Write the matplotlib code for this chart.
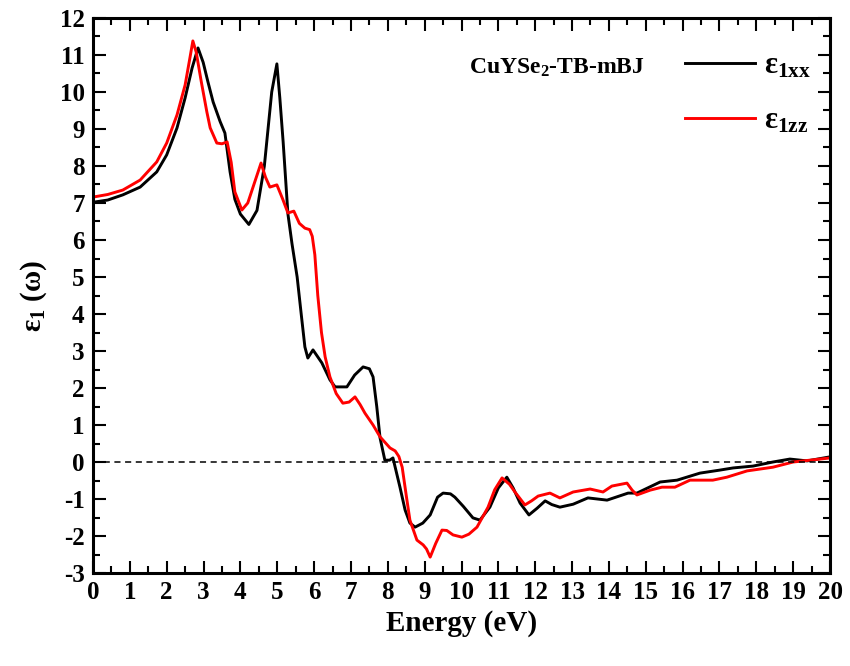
import numpy as np
import matplotlib
matplotlib.use("Agg")
import matplotlib.pyplot as plt
from matplotlib.ticker import MultipleLocator

plt.rcParams['font.family'] = ['Liberation Serif', 'DejaVu Serif']
plt.rcParams['font.weight'] = 'bold'
plt.rcParams['axes.unicode_minus'] = False
plt.rcParams['mathtext.fontset'] = 'custom'
plt.rcParams['mathtext.rm'] = 'Liberation Serif:bold'
plt.rcParams['mathtext.it'] = 'Liberation Serif:bold'
plt.rcParams['mathtext.bf'] = 'Liberation Serif:bold'

# real part of the dielectric function, xx component
energy_xx = [0.0, 0.4, 0.81, 1.28, 1.73, 2.0, 2.28, 2.5, 2.69, 2.85, 2.99, 3.12,
             3.26, 3.45, 3.58, 3.72, 3.85, 4.0, 4.23, 4.45, 4.65, 4.85, 4.99,
             5.07, 5.16, 5.29, 5.4, 5.54, 5.65, 5.75, 5.83, 5.97, 6.21, 6.43,
             6.57, 6.89, 7.1, 7.33, 7.5, 7.6, 7.7, 7.79, 7.92, 8.05, 8.14, 8.33,
             8.47, 8.6, 8.74, 8.95, 9.15, 9.35, 9.5, 9.7, 9.82, 10.05, 10.31,
             10.5, 10.77, 11.0, 11.23, 11.4, 11.59, 11.83, 12.05, 12.27, 12.45,
             12.67, 13.03, 13.43, 13.95, 14.52, 14.76, 15.39, 15.85, 16.47,
             17.0, 17.37, 17.91, 18.45, 18.91, 19.38, 20.0]
eps_xx = [7.02, 7.08, 7.22, 7.43, 7.84, 8.3, 9.03, 9.84, 10.65, 11.19, 10.8, 10.27,
          9.73, 9.2, 8.89, 7.84, 7.1, 6.7, 6.42, 6.8, 8.0, 10.0, 10.76,
          9.84, 8.65, 6.7, 5.9, 5.0, 4.0, 3.11, 2.81, 3.03, 2.68, 2.22,
          2.03, 2.03, 2.35, 2.57, 2.52, 2.3, 1.5, 0.65, 0.05, 0.05, 0.11, -0.68,
          -1.3, -1.65, -1.76, -1.65, -1.43, -0.95, -0.84, -0.86, -0.95, -1.2, -1.51,
          -1.57, -1.22, -0.7, -0.41, -0.7, -1.11, -1.43, -1.25, -1.05, -1.15,
          -1.22, -1.14, -0.97, -1.03, -0.84, -0.84, -0.54, -0.49, -0.3,
          -0.22, -0.16, -0.11, 0.0, 0.08, 0.03, 0.14]

# zz component
energy_zz = [0.0, 0.4, 0.81, 1.28, 1.73, 2.0, 2.28, 2.5, 2.63, 2.71, 2.8, 2.94,
             3.09, 3.18, 3.36, 3.5, 3.64, 3.75, 3.85, 4.04, 4.2, 4.4, 4.56, 4.68,
             4.8, 4.99, 5.15, 5.29, 5.45, 5.6, 5.75, 5.88, 5.95, 6.02, 6.1, 6.2,
             6.3, 6.43, 6.6, 6.78, 6.95, 7.11, 7.25, 7.38, 7.6, 7.79, 8.06, 8.2,
             8.3, 8.39, 8.5, 8.6, 8.79, 8.96, 9.05, 9.15, 9.3, 9.47, 9.6, 9.77,
             10.01, 10.2, 10.42, 10.72, 10.9, 11.1, 11.3, 11.45, 11.72, 11.9,
             12.08, 12.4, 12.67, 13.03, 13.49, 13.84, 14.08, 14.49, 14.63, 14.76,
             15.12, 15.44, 15.79, 16.2, 16.82, 17.2, 17.75, 18.45, 19.0, 20.0]
eps_zz = [7.16, 7.23, 7.35, 7.62, 8.11, 8.62, 9.38, 10.19, 10.92, 11.38, 11.08, 10.27,
          9.46, 9.03, 8.62, 8.6, 8.65, 8.1, 7.3, 6.81, 7.0, 7.6, 8.08, 7.7,
          7.43, 7.49, 7.1, 6.73, 6.78, 6.45, 6.32, 6.28, 6.1, 5.6, 4.5, 3.5,
          2.84, 2.3, 1.85, 1.59, 1.62, 1.76, 1.55, 1.32, 1.0, 0.68, 0.38, 0.3,
          0.15, -0.14, -0.9, -1.57, -2.11, -2.24, -2.35, -2.57, -2.2, -1.84, -1.85, -1.97,
          -2.03, -1.95, -1.76, -1.22, -0.75, -0.43, -0.6, -0.81, -1.16, -1.05,
          -0.92, -0.84, -0.97, -0.81, -0.73, -0.81, -0.65, -0.57, -0.76, -0.89,
          -0.76, -0.68, -0.68, -0.49, -0.49, -0.41, -0.24, -0.14, 0.0, 0.11]

fig = plt.figure(figsize=(8.5, 6.66), dpi=100)
ax = fig.add_axes([0.1094, 0.1396, 0.8671, 0.8334])

ax.plot(energy_xx, eps_xx, color='black', lw=2.1, label=r'ε$_{\rm 1xx}$')
ax.plot(energy_zz, eps_zz, color='red', lw=2.1, label=r'ε$_{\rm 1zz}$')
ax.axhline(0, color='black', lw=1.1, ls=(0, (4, 3)))

ax.set_xlim(0, 20)
ax.set_ylim(-3, 12)
ax.xaxis.set_major_locator(MultipleLocator(1))
ax.xaxis.set_minor_locator(MultipleLocator(0.5))
ax.yaxis.set_major_locator(MultipleLocator(1))
ax.yaxis.set_minor_locator(MultipleLocator(0.5))
ax.tick_params(which='both', direction='in', top=True, right=True, width=1.5)
ax.tick_params(which='major', length=9, labelsize=18, pad=6)
ax.tick_params(which='minor', length=5)
for s in ax.spines.values():
    s.set_linewidth(2.2)

ax.set_xlabel('Energy (eV)', fontsize=21, fontweight='bold', labelpad=4)
ax.set_ylabel(r'ε$_1$ (ω)', fontsize=21, fontweight='bold', labelpad=8)

ax.text(0.63, 0.91, r'CuYSe$_2$-TB-mBJ', transform=ax.transAxes, fontsize=17,
        fontweight='bold', ha='center', va='center')
leg = ax.legend(loc='upper right', bbox_to_anchor=(1.0, 0.972), frameon=False,
                fontsize=22, handlelength=2.3, labelspacing=0.85,
                handletextpad=0.3, borderaxespad=0.2)

fig.savefig('out.png', dpi=100)
